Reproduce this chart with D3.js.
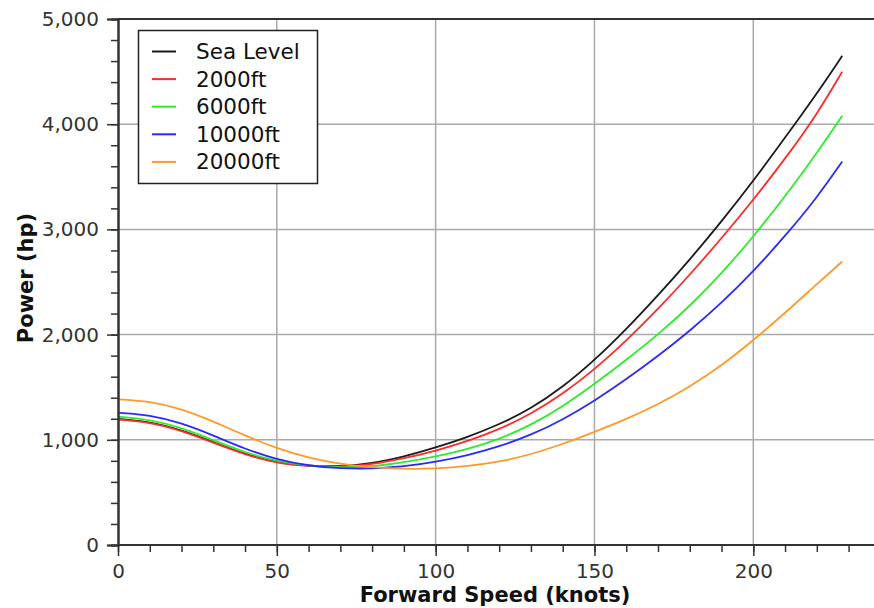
<!DOCTYPE html>
<html>
<head>
<meta charset="utf-8">
<script src="https://cdn.jsdelivr.net/npm/d3@7"></script>
<style>
  body { margin: 0; background: #fff; }
  svg { display: block; font-family: "DejaVu Sans", sans-serif; }
  .tick text { fill: #333; }
</style>
</head>
<body>
<svg id="chart" width="874" height="608"></svg>
<script>
// forward speed (knots)
const speeds = [0, 10, 20, 30, 40, 50, 60, 70, 80, 90, 100, 110, 120, 130, 140, 150, 160, 170, 180, 190, 200, 210, 220, 228];

// power (hp) per altitude
const seaLevel = [1198, 1172, 1092, 978, 862, 782, 750, 745, 775, 840, 925, 1025, 1145, 1295, 1500, 1755, 2050, 2372, 2712, 3075, 3460, 3872, 4290, 4650];
const ft2000   = [1193, 1167, 1088, 973, 858, 778, 748, 742, 765, 822, 895, 985, 1098, 1245, 1435, 1668, 1940, 2242, 2568, 2915, 3280, 3670, 4090, 4500];
const ft6000   = [1220, 1193, 1115, 997, 878, 795, 752, 735, 745, 785, 840, 910, 1005, 1140, 1315, 1530, 1760, 2000, 2270, 2580, 2930, 3312, 3725, 4080];
const ft10000  = [1258, 1236, 1160, 1042, 912, 812, 752, 728, 725, 745, 790, 852, 935, 1045, 1190, 1370, 1575, 1795, 2035, 2300, 2600, 2935, 3300, 3645];
const ft20000  = [1385, 1366, 1295, 1175, 1040, 918, 828, 768, 737, 722, 726, 748, 790, 860, 960, 1075, 1195, 1335, 1505, 1705, 1945, 2205, 2480, 2695];

const seriesNames = ["Sea Level", "2000ft", "6000ft", "10000ft", "20000ft"];
const seriesValues = [seaLevel, ft2000, ft6000, ft10000, ft20000];
const seriesColors = ["#1a1a1a", "#ff2a2a", "#2aee2a", "#2a2aff", "#ff9a2a"];

const xMajor = [0, 50, 100, 150, 200];
const yMajor = [0, 1000, 2000, 3000, 4000, 5000];

const svg = d3.select("#chart");
const plotL = 118, plotR = 874, plotT = 19, plotB = 545;

const x = d3.scaleLinear().domain([0, 238]).range([plotL, plotR]);
const y = d3.scaleLinear().domain([0, 5000]).range([plotB, plotT]);

// grid
svg.append("g")
  .selectAll("line")
  .data(xMajor.slice(1))
  .enter().append("line")
  .attr("x1", d => x(d)).attr("x2", d => x(d))
  .attr("y1", plotT).attr("y2", plotB)
  .attr("stroke", "#aaa").attr("stroke-width", 1.5);
svg.append("g")
  .selectAll("line")
  .data(yMajor.slice(1))
  .enter().append("line")
  .attr("x1", plotL).attr("x2", plotR)
  .attr("y1", d => y(d)).attr("y2", d => y(d))
  .attr("stroke", "#aaa").attr("stroke-width", 1.5);

// top frame
svg.append("line")
  .attr("x1", plotL).attr("x2", plotR)
  .attr("y1", plotT).attr("y2", plotT)
  .attr("stroke", "#333").attr("stroke-width", 2);

// curves
const line = d3.line()
  .x((d, i) => x(speeds[i]))
  .y(d => y(d))
  .curve(d3.curveBasis);

seriesValues.forEach((vals, k) => {
  svg.append("path")
    .attr("d", line(vals))
    .attr("fill", "none")
    .attr("stroke", seriesColors[k])
    .attr("stroke-width", 1.8);
});

// axes
const fmt = d3.format(",");
const xMinor = d3.range(0, 240, 10);
const yMinor = d3.range(0, 5001, 200);

const xAxisMinor = svg.append("g")
  .attr("transform", `translate(0,${plotB})`)
  .call(d3.axisBottom(x).tickValues(xMinor).tickSize(7).tickFormat(""));
const xAxis = svg.append("g")
  .attr("transform", `translate(0,${plotB})`)
  .call(d3.axisBottom(x).tickValues(xMajor).tickSize(11).tickPadding(8).tickFormat(d3.format("d")));

const yAxisMinor = svg.append("g")
  .attr("transform", `translate(${plotL},0)`)
  .call(d3.axisLeft(y).tickValues(yMinor).tickSize(7).tickFormat(""));
const yAxis = svg.append("g")
  .attr("transform", `translate(${plotL},0)`)
  .call(d3.axisLeft(y).tickValues(yMajor).tickSize(11).tickPadding(8).tickFormat(fmt));

[xAxisMinor, xAxis, yAxisMinor, yAxis].forEach(g => {
  g.selectAll("path.domain").attr("stroke", "#333").attr("stroke-width", 2);
  g.selectAll(".tick line").attr("stroke", "#333").attr("stroke-width", 1.5);
  g.selectAll(".tick text").attr("font-size", 20).attr("font-family", "DejaVu Sans");
});
xAxis.selectAll("path.domain").attr("d", `M${plotL},0H${plotR}`);
xAxisMinor.selectAll("path.domain").attr("d", `M${plotL},0H${plotR}`);

// axis titles
svg.append("text")
  .attr("x", 495).attr("y", 602)
  .attr("text-anchor", "middle")
  .attr("font-size", 21).attr("font-weight", "bold")
  .attr("fill", "#111")
  .text("Forward Speed (knots)");

svg.append("text")
  .attr("transform", "translate(33,278) rotate(-90)")
  .attr("text-anchor", "middle")
  .attr("font-size", 21).attr("font-weight", "bold")
  .attr("fill", "#111")
  .text("Power (hp)");

// legend
const legend = svg.append("g");
legend.append("rect")
  .attr("x", 138.5).attr("y", 30.5)
  .attr("width", 179).attr("height", 153)
  .attr("fill", "#fff").attr("stroke", "#222").attr("stroke-width", 1.5);

seriesNames.forEach((name, k) => {
  const ry = 51.5 + k * 27.6;
  legend.append("line")
    .attr("x1", 152).attr("x2", 176)
    .attr("y1", ry).attr("y2", ry)
    .attr("stroke", seriesColors[k]).attr("stroke-width", 2);
  legend.append("text")
    .attr("x", 196).attr("y", ry + 7.5)
    .attr("font-size", 21.5)
    .attr("fill", "#111")
    .text(name);
});
</script>
</body>
</html>
